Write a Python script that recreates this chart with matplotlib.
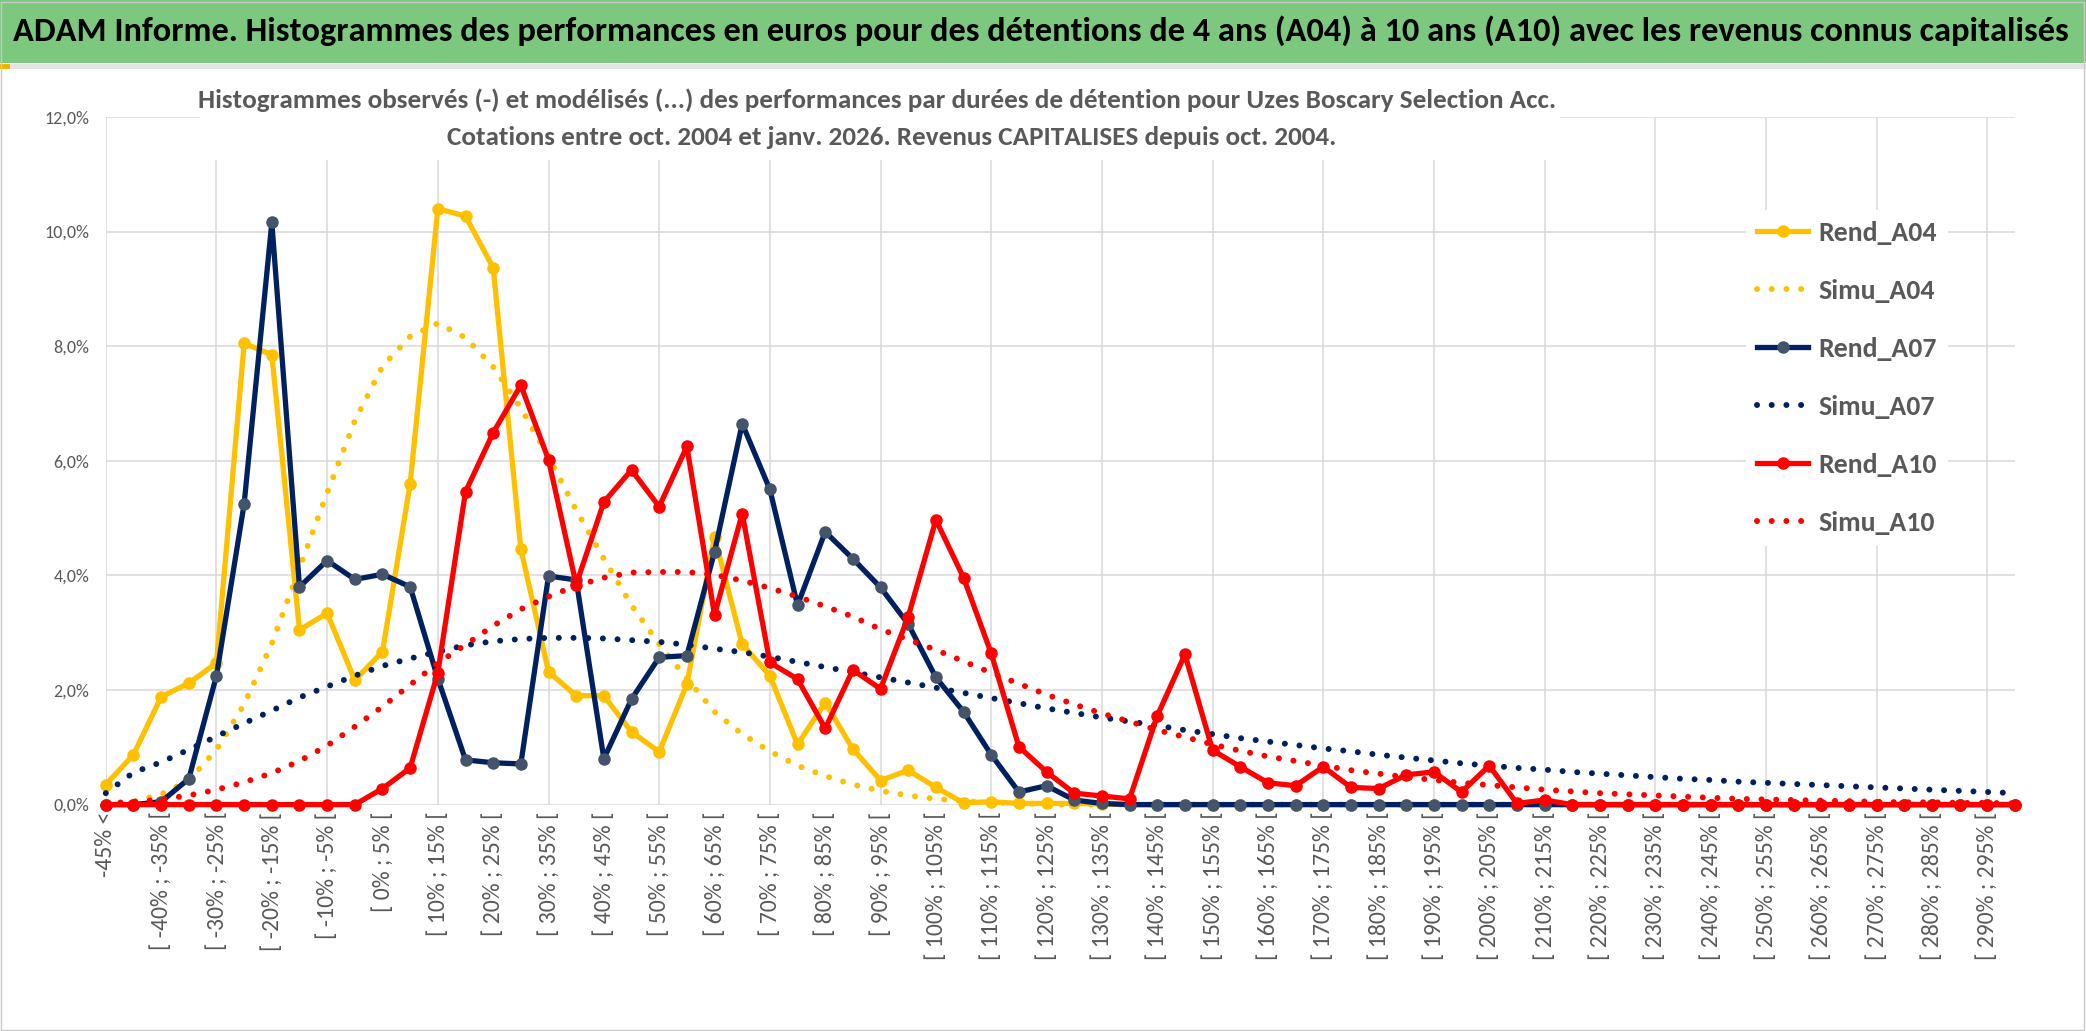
import matplotlib
matplotlib.use('Agg')
import matplotlib.pyplot as plt
from matplotlib import font_manager
from matplotlib.patches import Rectangle

# police proche de Calibri si elle existe
installees = {f.name for f in font_manager.fontManager.ttflist}
police = next(n for n in ['Carlito', 'Lato', 'DejaVu Sans'] if n in installees)
plt.rcParams['font.family'] = [police, 'DejaVu Sans']

# ---------- données ----------
bornes = list(range(-45, 300, 5))  # bornes basses des classes de 5%
categories = ['-45% <'] + ['[ %d%% ; %d%% [' % (b, b + 5) for b in bornes]

rend_a04 = [0.35, 0.87, 1.88, 2.12, 2.47, 8.05, 7.85, 3.05, 3.34, 2.17,
            2.67, 5.60, 10.40, 10.27, 9.37, 4.46, 2.32, 1.90, 1.90, 1.27,
            0.92, 2.10, 4.67, 2.80, 2.25, 1.05, 1.78, 0.97, 0.42, 0.60,
            0.30, 0.03, 0.05, 0.02, 0.02, 0.02, 0.01, 0, 0, 0,
            0, 0, 0, 0, 0, 0, 0, 0, 0, 0,
            0, 0, 0, 0, 0, 0, 0, 0, 0, 0,
            0, 0, 0, 0, 0, 0, 0, 0, 0, 0]
simu_a04 = [0.01, 0.05, 0.18, 0.42, 0.96, 1.75, 2.81, 4.13, 5.44, 6.70,
            7.65, 8.17, 8.40, 8.15, 7.64, 6.92, 6.07, 5.14, 4.29, 3.48,
            2.80, 2.20, 1.62, 1.23, 0.93, 0.68, 0.50, 0.35, 0.24, 0.16,
            0.10, 0.06, 0.04, 0.02, 0.01, 0, 0, 0, 0, 0,
            0, 0, 0, 0, 0, 0, 0, 0, 0, 0,
            0, 0, 0, 0, 0, 0, 0, 0, 0, 0,
            0, 0, 0, 0, 0, 0, 0, 0, 0, 0]
rend_a07 = [0, 0, 0.05, 0.45, 2.25, 5.25, 10.16, 3.80, 4.26, 3.93,
            4.02, 3.80, 2.20, 0.78, 0.73, 0.71, 3.99, 3.92, 0.80, 1.84,
            2.57, 2.60, 4.41, 6.65, 5.50, 3.48, 4.76, 4.29, 3.79, 3.15,
            2.22, 1.62, 0.87, 0.22, 0.33, 0.08, 0.02, 0, 0, 0,
            0, 0, 0, 0, 0, 0, 0, 0, 0, 0,
            0, 0, 0, 0, 0, 0, 0, 0, 0, 0,
            0, 0, 0, 0, 0, 0, 0, 0, 0, 0]
simu_a07 = [0.20, 0.56, 0.74, 0.96, 1.19, 1.42, 1.64, 1.87, 2.06, 2.25,
            2.42, 2.55, 2.67, 2.78, 2.85, 2.89, 2.91, 2.91, 2.90, 2.87,
            2.84, 2.79, 2.72, 2.66, 2.58, 2.49, 2.40, 2.31, 2.22, 2.13,
            2.04, 1.95, 1.86, 1.77, 1.68, 1.60, 1.52, 1.45, 1.38, 1.30,
            1.23, 1.16, 1.10, 1.04, 0.98, 0.93, 0.87, 0.82, 0.77, 0.72,
            0.68, 0.64, 0.61, 0.57, 0.54, 0.51, 0.48, 0.45, 0.43, 0.40,
            0.38, 0.36, 0.34, 0.32, 0.30, 0.28, 0.26, 0.24, 0.22, 0.20]
rend_a10 = [0, 0, 0, 0, 0, 0, 0, 0, 0, 0,
            0.28, 0.64, 2.30, 5.46, 6.49, 7.32, 6.02, 3.84, 5.28, 5.84,
            5.20, 6.25, 3.31, 5.08, 2.48, 2.19, 1.33, 2.35, 2.02, 3.28,
            4.97, 3.96, 2.64, 1.01, 0.57, 0.20, 0.15, 0.10, 1.55, 2.62,
            0.95, 0.66, 0.38, 0.33, 0.66, 0.30, 0.28, 0.52, 0.57, 0.22,
            0.68, 0.02, 0.08, 0, 0, 0, 0, 0, 0, 0,
            0, 0, 0, 0, 0, 0, 0, 0, 0, 0]
simu_a10 = [0.02, 0.05, 0.09, 0.16, 0.26, 0.39, 0.55, 0.76, 1.03, 1.36,
            1.71, 2.09, 2.47, 2.79, 3.12, 3.41, 3.63, 3.82, 3.96, 4.05,
            4.06, 4.06, 4.01, 3.91, 3.78, 3.63, 3.46, 3.28, 3.06, 2.88,
            2.70, 2.50, 2.30, 2.11, 1.92, 1.75, 1.59, 1.45, 1.30, 1.18,
            1.05, 0.94, 0.84, 0.76, 0.68, 0.60, 0.54, 0.48, 0.43, 0.38,
            0.34, 0.30, 0.26, 0.23, 0.20, 0.18, 0.16, 0.14, 0.12, 0.10,
            0.09, 0.08, 0.07, 0.06, 0.05, 0.04, 0.04, 0.03, 0.03, 0.02]

titre = ('ADAM Informe. Histogrammes des performances en euros pour des détentions '
         'de 4 ans (A04) à 10 ans (A10) avec les revenus connus capitalisés')
sous_titre1 = ('Histogrammes observés (-) et modélisés (...) des performances par durées '
               'de détention pour Uzes Boscary Selection Acc.')
sous_titre2 = 'Cotations entre oct. 2004 et janv. 2026. Revenus CAPITALISES depuis oct. 2004.'

JAUNE = '#FFC000'
MARINE = '#002060'
ROUGE = '#FF0000'
GRIS = '#595959'
GRILLE = '#D9D9D9'

# ---------- figure ----------
W, H = 2086, 1031
fig = plt.figure(figsize=(W / 100, H / 100), dpi=100)
ax = fig.add_axes([105.8 / W, 1 - 804.6 / H, (2015 - 105.8) / W, (804.6 - 117) / H])

x = list(range(len(categories)))
pointille = (0, (0.01, 2.45))  # points ronds façon Excel
ax.plot(x, rend_a04, color=JAUNE, lw=3.8, marker='o', ms=8, mfc=JAUNE, mec=JAUNE,
        label='Rend_A04', zorder=3, clip_on=False)
ax.plot(x, simu_a04, color=JAUNE, lw=4.3, ls=pointille, dash_capstyle='round',
        label='Simu_A04', zorder=4, clip_on=False)
ax.plot(x, rend_a07, color=MARINE, lw=3.8, marker='o', ms=8, mfc='#44546A', mec='#44546A',
        label='Rend_A07', zorder=5, clip_on=False)
ax.plot(x, simu_a07, color=MARINE, lw=4.3, ls=pointille, dash_capstyle='round',
        label='Simu_A07', zorder=6, clip_on=False)
ax.plot(x, rend_a10, color=ROUGE, lw=3.8, marker='o', ms=8, mfc=ROUGE, mec=ROUGE,
        label='Rend_A10', zorder=7, clip_on=False)
ax.plot(x, simu_a10, color=ROUGE, lw=4.3, ls=pointille, dash_capstyle='round',
        label='Simu_A10', zorder=8, clip_on=False)

ax.set_xlim(0, len(categories) - 1)
ax.set_ylim(0, 12)
ax.set_yticks(range(0, 13, 2))
ax.set_yticklabels(['%d,0%%' % v for v in range(0, 13, 2)])
ax.set_xticks(x[::2])
ax.set_xticklabels(categories[::2], rotation=90)
ax.tick_params(length=0, labelcolor=GRIS)
ax.tick_params(axis='y', labelsize=13, pad=12)
ax.tick_params(axis='x', labelsize=17, pad=5)
for s in ax.spines.values():
    s.set_visible(False)
ax.set_axisbelow(True)
ax.grid(axis='y', color=GRILLE, lw=1.1)
for c in range(0, len(categories), 4):  # quadrillage vertical toutes les 4 classes
    ax.axvline(c, color=GRILLE, lw=1.1, zorder=0.5)

leg = ax.legend(loc='upper left', bbox_to_anchor=(0.8517, 0.885), frameon=True,
                facecolor='white', edgecolor='none', framealpha=1, fancybox=False,
                prop={'weight': 'bold', 'size': 20}, labelcolor=GRIS,
                labelspacing=1.22, handlelength=1.85, handletextpad=0.35, borderpad=0.4)
leg.set_zorder(10)

# bandeau vert + cadre
fig.add_artist(Rectangle((0, 1 - 63 / H), 1, 63 / H, transform=fig.transFigure,
                         facecolor='#7DC87F', edgecolor='none', zorder=1))
fig.add_artist(Rectangle((0, 1 - 69 / H), 1, 5 / H, transform=fig.transFigure,
                         facecolor='#E4E4E4', edgecolor='none', zorder=1))
fig.add_artist(Rectangle((0, 1 - 69 / H), 10 / W, 5 / H, transform=fig.transFigure,
                         facecolor='#F2B300', edgecolor='none', zorder=1))
fig.add_artist(Rectangle((1 / W, 1 / H), (W - 3) / W, (H - 3) / H, transform=fig.transFigure,
                         facecolor='none', edgecolor='#C8C8C8', lw=1, zorder=1))
# fond blanc du titre du graphique
fig.add_artist(Rectangle((200 / W, 1 - 160 / H), 1360 / W, 82 / H, transform=fig.transFigure,
                         facecolor='white', edgecolor='none', zorder=2))

t_titre = fig.text(13 / W, 1 - 31 / H, titre, ha='left', va='center', weight='bold',
                   fontsize=20, color='black', zorder=3)
t_sous1 = fig.text(877 / W, 1 - 100 / H, sous_titre1, ha='center', va='center',
                   weight='bold', fontsize=17, color=GRIS, zorder=3)
t_sous2 = fig.text(892 / W, 1 - 137 / H, sous_titre2, ha='center', va='center',
                   weight='bold', fontsize=17, color=GRIS, zorder=3)

# ajuster les tailles aux largeurs mesurées sur l'image
fig.canvas.draw()
r = fig.canvas.get_renderer()
t_titre.set_fontsize(t_titre.get_fontsize() * 2056 / t_titre.get_window_extent(r).width)
t_sous1.set_fontsize(t_sous1.get_fontsize() * 1354 / t_sous1.get_window_extent(r).width)
t_sous2.set_fontsize(t_sous1.get_fontsize())

fig.savefig('out.png', dpi=100)
